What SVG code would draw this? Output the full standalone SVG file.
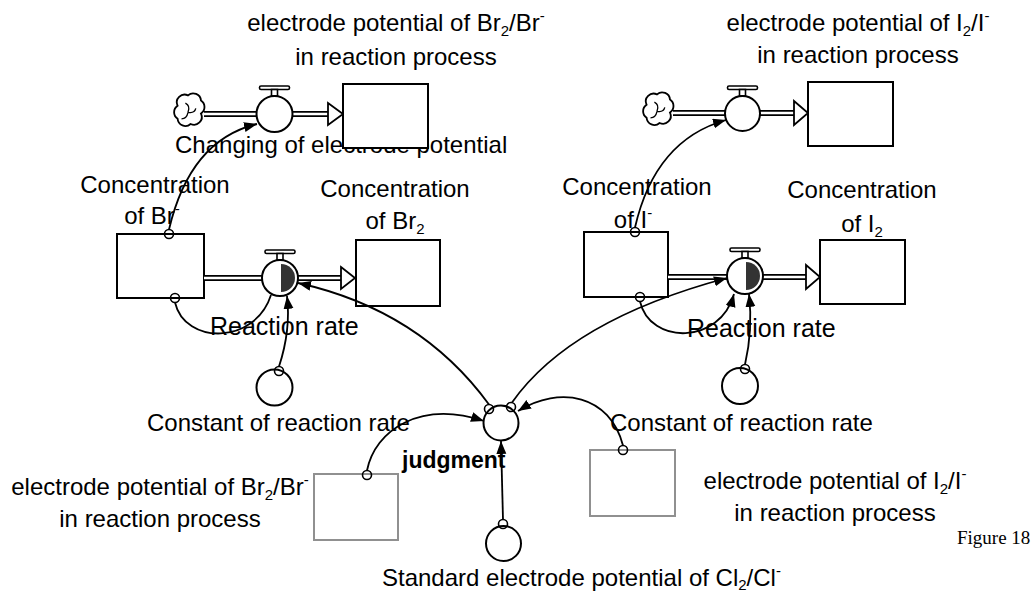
<svg xmlns="http://www.w3.org/2000/svg" width="1035" height="595" viewBox="0 0 1035 595">
  <style>
    text { font-family: "Liberation Sans", Arial, sans-serif; font-size: 24px; fill: #000; }
    .mid { text-anchor: middle; }
    .sub { font-size: 15px; }
    .sup { font-size: 15px; }
    .rate { font-size: 25px; }
    .bold { font-weight: bold; font-size: 23px; }
    .fig { font-family: "Liberation Serif", "Times New Roman", serif; font-size: 19px; }
    .stock { fill: #fff; stroke: #000; stroke-width: 2; }
    .stock-gray { fill: #fff; stroke: #909090; stroke-width: 2; }
    .aux { fill: #fff; stroke: #000; stroke-width: 2; }
    .pipe-out { stroke: #000; stroke-width: 6; fill: none; }
    .pipe-in { stroke: #fff; stroke-width: 2.4; fill: none; }
    .pipe-head { fill: #fff; stroke: #000; stroke-width: 1.8; stroke-linejoin: miter; }
    .cloud { fill: #fff; stroke: #000; stroke-width: 1.4; }
    .curl { fill: none; stroke: #000; stroke-width: 1; }
    .handle { fill: #fff; stroke: #000; stroke-width: 1.6; }
    .half { fill: #333; }
    .link { fill: none; stroke: #000; stroke-width: 1.8; }
    .tail { fill: none; stroke: #000; stroke-width: 1.6; }
  </style>
  <defs>
    <marker id="arrow" markerUnits="userSpaceOnUse" markerWidth="14" markerHeight="12" refX="13" refY="5" orient="auto">
      <path d="M0,0 L13,5 L0,10 Z" fill="#000"/>
    </marker>
    <path id="cloud-shape" d="M-8,-4 a6,6 0 0 1 8,-8 a6,6 0 0 1 10,4 a6,6 0 0 1 0,10 a6,6 0 0 1 -8,8 a6,6 0 0 1 -10,-4 a6,6 0 0 1 0,-10 z"/>
    <g id="cloud">
      <use href="#cloud-shape" class="cloud"/>
      <path class="curl" d="M-2,-6 q4,2 2,7 M0,1 q5,1 6,-3 M0,1 q-1,5 -5,5"/>
    </g>
    <g id="handle">
      <rect class="handle" x="-15" y="-10" width="30" height="3.5" rx="1.5"/>
      <rect class="handle" x="-3" y="-6.5" width="6" height="6.5"/>
    </g>
  </defs>

  <!-- upper left: potential of Br2/Br- -->
  <g id="flow-br-potential">
    <use href="#cloud" transform="translate(188,111) scale(1.3)"/>
    <line class="pipe-out" x1="204" y1="114" x2="257" y2="114"/>
    <line class="pipe-in" x1="203" y1="114" x2="258" y2="114"/>
    <line class="pipe-out" x1="292" y1="114" x2="330" y2="114"/>
    <line class="pipe-in" x1="291" y1="114" x2="331" y2="114"/>
    <polygon class="pipe-head" points="328,103 343,114 328,125"/>
    <use href="#handle" x="274.5" y="96"/>
    <circle class="aux" cx="274.5" cy="114" r="18"/>
    <text x="175" y="153">Changing of electrode potential</text>
  </g>
  <g id="stock-br-potential">
    <rect class="stock" x="343" y="84" width="85" height="64"/>
    <text class="mid" x="396" y="31">electrode potential of Br<tspan class="sub" dy="5">2</tspan><tspan dy="-5">/Br</tspan><tspan class="sup" dy="-10">-</tspan></text>
    <text class="mid" x="396" y="65">in reaction process</text>
  </g>

  <!-- upper right: potential of I2/I- -->
  <g id="flow-i-potential">
    <use href="#cloud" transform="translate(657,110) scale(1.3)"/>
    <line class="pipe-out" x1="673" y1="113" x2="726" y2="113"/>
    <line class="pipe-in" x1="672" y1="113" x2="727" y2="113"/>
    <line class="pipe-out" x1="759" y1="113" x2="796" y2="113"/>
    <line class="pipe-in" x1="758" y1="113" x2="797" y2="113"/>
    <polygon class="pipe-head" points="794,101 808,113 794,125"/>
    <use href="#handle" x="742.5" y="96"/>
    <circle class="aux" cx="742.5" cy="113.5" r="17.5"/>
  </g>
  <g id="stock-i-potential">
    <rect class="stock" x="808" y="82" width="85" height="64"/>
    <text class="mid" x="858" y="31">electrode potential of I<tspan class="sub" dy="5">2</tspan><tspan dy="-5">/I</tspan><tspan class="sup" dy="-10">-</tspan></text>
    <text class="mid" x="858" y="63">in reaction process</text>
  </g>

  <!-- middle left: Br- to Br2 reaction -->
  <g id="stock-br-ion">
    <rect class="stock" x="117" y="234" width="87" height="64"/>
    <text class="mid" x="155" y="193">Concentration</text>
    <text class="mid" x="152" y="224">of Br<tspan class="sup" dy="-10">-</tspan></text>
  </g>
  <g id="flow-br-reaction">
    <line class="pipe-out" x1="204" y1="278" x2="263" y2="278"/>
    <line class="pipe-in" x1="204" y1="278" x2="264" y2="278"/>
    <line class="pipe-out" x1="297" y1="278" x2="343" y2="278"/>
    <line class="pipe-in" x1="296" y1="278" x2="344" y2="278"/>
    <polygon class="pipe-head" points="341,267 355,278 341,289"/>
    <use href="#handle" x="280" y="260"/>
    <circle class="aux" cx="280" cy="278" r="18"/>
    <path class="half" d="M281,264 A14,14 0 0 1 281,292 Z"/>
    <text class="rate" x="210" y="335">Reaction rate</text>
  </g>
  <g id="stock-br2">
    <rect class="stock" x="356" y="240" width="84" height="66"/>
    <text class="mid" x="395" y="197">Concentration</text>
    <text class="mid" x="395" y="229">of Br<tspan class="sub" dy="5">2</tspan></text>
  </g>
  <g id="const-br">
    <circle class="aux" cx="274.5" cy="387.5" r="18"/>
    <text x="147" y="431">Constant of reaction rate</text>
  </g>

  <!-- middle right: I- to I2 reaction -->
  <g id="stock-i-ion">
    <rect class="stock" x="584" y="232" width="84" height="65"/>
    <text class="mid" x="637" y="195">Concentration</text>
    <text class="mid" x="633" y="228">of I<tspan class="sup" dy="-10">-</tspan></text>
  </g>
  <g id="flow-i-reaction">
    <line class="pipe-out" x1="668" y1="277" x2="728" y2="277"/>
    <line class="pipe-in" x1="668" y1="277" x2="729" y2="277"/>
    <line class="pipe-out" x1="762" y1="277" x2="808" y2="277"/>
    <line class="pipe-in" x1="761" y1="277" x2="809" y2="277"/>
    <polygon class="pipe-head" points="806,265 820,277 806,289"/>
    <use href="#handle" x="745" y="258"/>
    <circle class="aux" cx="745" cy="276" r="18"/>
    <path class="half" d="M746,262 A14,14 0 0 1 746,290 Z"/>
    <text class="rate" x="687" y="337">Reaction rate</text>
  </g>
  <g id="stock-i2">
    <rect class="stock" x="820" y="240" width="85" height="64"/>
    <text class="mid" x="862" y="198">Concentration</text>
    <text class="mid" x="862" y="232">of I<tspan class="sub" dy="5">2</tspan></text>
  </g>
  <g id="const-i">
    <circle class="aux" cx="740" cy="386" r="18"/>
    <text x="610" y="431">Constant of reaction rate</text>
  </g>

  <!-- lower part: judgment of which reaction proceeds -->
  <g id="judgment">
    <circle class="aux" cx="501" cy="423" r="17.5"/>
    <text class="bold" x="402" y="468">judgment</text>
  </g>
  <g id="ref-br-potential">
    <rect class="stock-gray" x="314" y="474" width="84" height="66"/>
    <text class="mid" x="160" y="495">electrode potential of Br<tspan class="sub" dy="5">2</tspan><tspan dy="-5">/Br</tspan><tspan class="sup" dy="-10">-</tspan></text>
    <text class="mid" x="160" y="527">in reaction process</text>
  </g>
  <g id="ref-i-potential">
    <rect class="stock-gray" x="590" y="450" width="85" height="66"/>
    <text class="mid" x="835" y="489">electrode potential of I<tspan class="sub" dy="5">2</tspan><tspan dy="-5">/I</tspan><tspan class="sup" dy="-10">-</tspan></text>
    <text class="mid" x="835" y="521">in reaction process</text>
  </g>
  <g id="standard-cl">
    <circle class="aux" cx="503.5" cy="543.5" r="17.5"/>
    <text x="382" y="586">Standard electrode potential of Cl<tspan class="sub" dy="4">2</tspan><tspan dy="-4">/Cl</tspan><tspan class="sup" dy="-10">-</tspan></text>
  </g>

  <text class="fig" x="957" y="544">Figure 18</text>

  <!-- information links -->
  <g id="connectors">
    <path class="link" d="M169,229.5 Q190,140 257,124" marker-end="url(#arrow)"/>
    <path class="link" d="M635,227.5 Q655,140 726,120" marker-end="url(#arrow)"/>
    <path class="link" d="M175,302.5 C185,345 255,345 271,295"/>
    <path class="link" d="M640,301.5 C650,345 720,345 734,294" marker-end="url(#arrow)"/>
    <path class="link" d="M279,366.5 Q291,330 287,296" marker-end="url(#arrow)"/>
    <path class="link" d="M745,364.5 Q753,330 749,294" marker-end="url(#arrow)"/>
    <path class="link" d="M489,404.5 Q420,310 298,283" marker-end="url(#arrow)"/>
    <path class="link" d="M512,402.5 Q570,320 727,278" marker-end="url(#arrow)"/>
    <path class="link" d="M367,470.5 C375,430 420,400 484,421" marker-end="url(#arrow)"/>
    <path class="link" d="M623,445.5 C610,395 560,385 518,411" marker-end="url(#arrow)"/>
    <path class="link" d="M503,519.5 L501,441" marker-end="url(#arrow)"/>
    <g class="tail">
      <circle cx="169" cy="234" r="4.5"/>
      <circle cx="175" cy="298" r="4.5"/>
      <circle cx="635" cy="232" r="4.5"/>
      <circle cx="640" cy="297" r="4.5"/>
      <circle cx="279" cy="371" r="4.5"/>
      <circle cx="745" cy="369" r="4.5"/>
      <circle cx="489" cy="409" r="4.5"/>
      <circle cx="511" cy="407" r="4.5"/>
      <circle cx="367" cy="475" r="4.5"/>
      <circle cx="623" cy="450" r="4.5"/>
      <circle cx="503" cy="524" r="4.5"/>
    </g>
  </g>
</svg>
